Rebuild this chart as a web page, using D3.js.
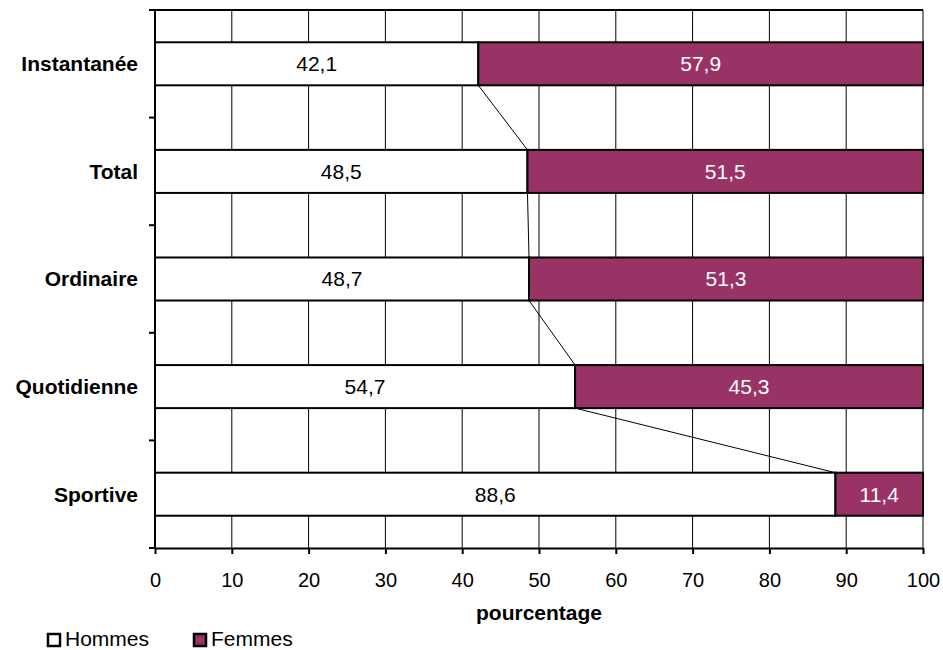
<!DOCTYPE html>
<html><head><meta charset="utf-8">
<script src="https://cdn.jsdelivr.net/npm/d3@7"></script>
<style>body{margin:0;background:#fff}svg{display:block}text{font-family:Arial,"Liberation Sans",sans-serif}</style>
</head><body>
<svg id="c" width="943" height="650"></svg>
<script>
const categories = ["Instantanée","Total","Ordinaire","Quotidienne","Sportive"];
const hommes = [42.1,48.5,48.7,54.7,88.6];
const femmes = [57.9,51.5,51.3,45.3,11.4];
const xTicks = [0,10,20,30,40,50,60,70,80,90,100];
const seriesNames = ["Hommes","Femmes"];
const colors = ["#ffffff","#993366"];

const svg = d3.select("#c");
const L=155,R=923,T=10,B=548;
const x = d3.scaleLinear().domain([0,100]).range([L,R]);
const y = d3.scaleBand().domain(categories).range([T,B]).paddingInner(0.6).paddingOuter(0.3);
const fmt = v => String(v.toFixed(1)).replace(".",",");
const FS = 21;

// gridlines
svg.append("g").selectAll("line").data(xTicks).join("line")
  .attr("x1",d=>x(d)).attr("x2",d=>x(d)).attr("y1",T).attr("y2",B)
  .attr("stroke","#000").attr("stroke-width",1);
// top border
svg.append("line").attr("x1",L).attr("x2",R).attr("y1",T).attr("y2",T).attr("stroke","#000").attr("stroke-width",2);

// bars
const g = svg.append("g");
categories.forEach((c,i)=>{
  g.append("rect").attr("x",x(0)).attr("y",y(c)).attr("width",x(hommes[i])-x(0)).attr("height",y.bandwidth())
   .attr("fill",colors[0]).attr("stroke","#000").attr("stroke-width",2);
  g.append("rect").attr("x",x(hommes[i])).attr("y",y(c)).attr("width",x(hommes[i]+femmes[i])-x(hommes[i])).attr("height",y.bandwidth())
   .attr("fill",colors[1]).attr("stroke","#000").attr("stroke-width",2);
  g.append("text").attr("x",(x(0)+x(hommes[i]))/2).attr("y",y(c)+y.bandwidth()/2).attr("dy","0.35em")
   .attr("text-anchor","middle").attr("font-size",FS).attr("fill","#000").text(fmt(hommes[i]));
  g.append("text").attr("x",(x(hommes[i])+x(hommes[i]+femmes[i]))/2).attr("y",y(c)+y.bandwidth()/2).attr("dy","0.35em")
   .attr("text-anchor","middle").attr("font-size",FS).attr("fill","#fff").text(fmt(femmes[i]));
});
// series lines
for(let i=0;i<categories.length-1;i++){
  svg.append("line").attr("x1",x(hommes[i])).attr("y1",y(categories[i])+y.bandwidth())
    .attr("x2",x(hommes[i+1])).attr("y2",y(categories[i+1])).attr("stroke","#000").attr("stroke-width",1);
}

// y axis
const step = (B-T)/categories.length;
svg.append("line").attr("x1",L).attr("x2",L).attr("y1",T).attr("y2",B).attr("stroke","#000").attr("stroke-width",2);
d3.range(categories.length+1).forEach(k=>{
  svg.append("line").attr("x1",L-6).attr("x2",L).attr("y1",T+k*step).attr("y2",T+k*step).attr("stroke","#000").attr("stroke-width",2);
});
categories.forEach(c=>{
  svg.append("text").attr("x",138).attr("y",y(c)+y.bandwidth()/2).attr("dy","0.35em")
    .attr("text-anchor","end").attr("font-size",FS).attr("font-weight","bold").text(c);
});

// x axis
const xa = svg.append("g").attr("transform",`translate(0,${B})`)
  .call(d3.axisBottom(x).tickValues(xTicks).tickSize(6).tickSizeOuter(0));
xa.select(".domain").attr("stroke","#000").attr("stroke-width",2);
xa.selectAll(".tick line").attr("stroke","#000").attr("stroke-width",2);
xa.selectAll(".tick text").attr("font-size",20).attr("font-family","Arial, Liberation Sans, sans-serif")
  .attr("fill","#000").attr("dy",null).attr("y",39);

svg.append("text").attr("x",x(50)).attr("y",620).attr("text-anchor","middle")
  .attr("font-size",FS).attr("font-weight","bold").text("pourcentage");

// legend
const lg = [{n:seriesNames[0],c:colors[0],x:47},{n:seriesNames[1],c:colors[1],x:193}];
lg.forEach(d=>{
  svg.append("rect").attr("x",d.x+1).attr("y",634).attr("width",12).attr("height",12)
    .attr("fill",d.c).attr("stroke","#000").attr("stroke-width",2.5);
  svg.append("text").attr("x",d.x+18).attr("y",646).attr("font-size",FS).text(d.n);
});
</script>
</body></html>
